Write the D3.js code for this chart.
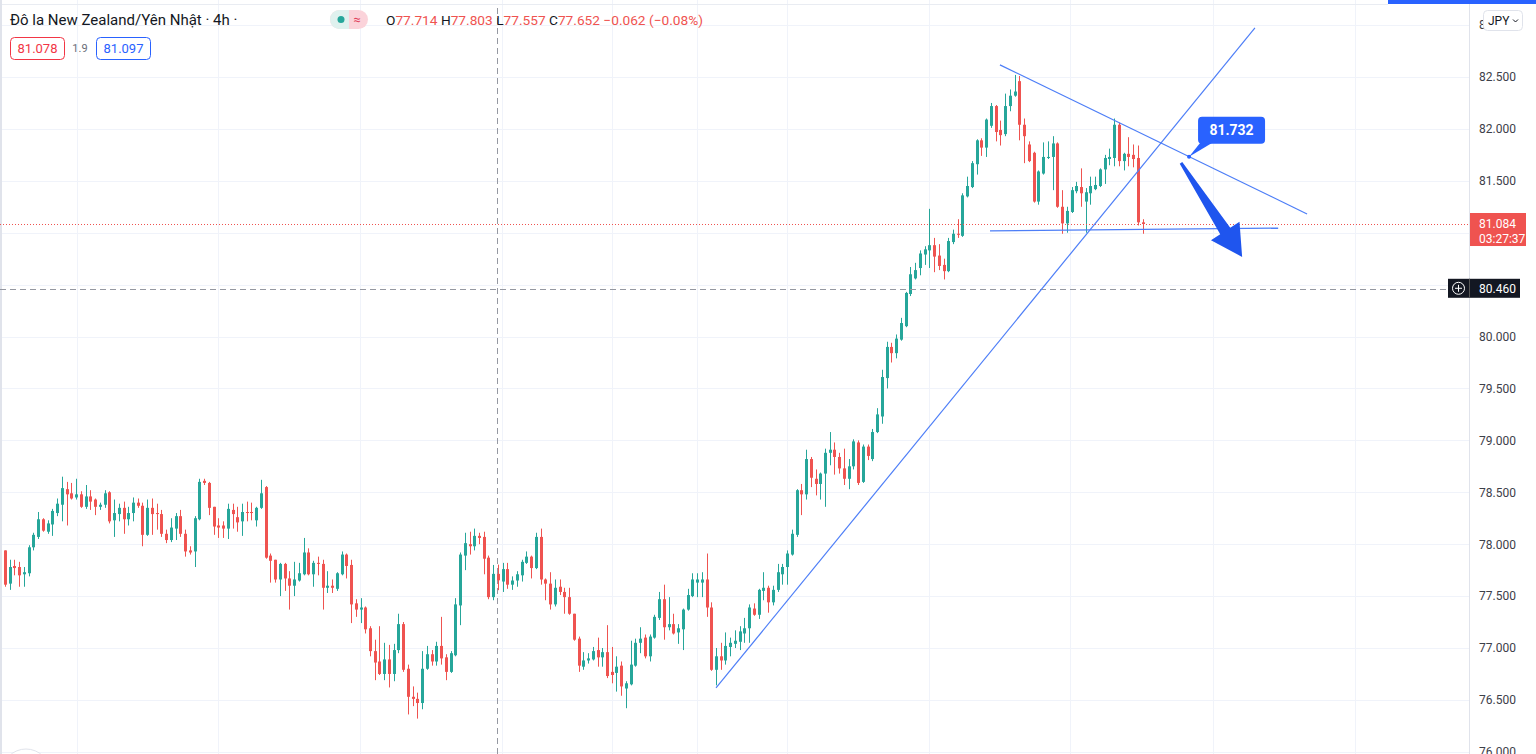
<!DOCTYPE html>
<html lang="vi">
<head>
<meta charset="UTF-8">
<title>Đô la New Zealand/Yên Nhật 4h</title>
<script src="https://d3js.org/d3.v7.min.js"></script>
<style>
  body { margin: 0; background: #fff; font-family: Roboto, "Liberation Sans", sans-serif; }
  svg { display: block; }
  .axis text { font-size: 12px; fill: #3d4049; font-family: Roboto, sans-serif; }
</style>
</head>
<body>
<svg width="1536" height="754"></svg>
<script>
// candles (4h)
const opens = [77.94,77.62,77.79,77.78,77.71,77.72,77.97,78.07,78.24,78.12,78.19,78.30,78.38,78.53,78.49,78.45,78.48,78.36,78.46,78.43,
  78.36,78.38,78.50,78.23,78.29,78.35,78.24,78.30,78.40,78.37,78.09,78.35,78.30,78.29,78.10,78.04,78.15,78.27,78.10,77.94,
  77.93,78.24,78.61,78.59,78.36,78.18,78.18,78.15,78.33,78.26,78.22,78.31,78.31,78.23,78.35,78.55,77.89,77.85,77.66,77.81,
  77.67,77.60,77.65,77.71,77.92,77.71,77.82,77.81,77.58,77.60,77.57,77.71,77.90,77.80,77.43,77.37,77.39,77.19,76.97,76.87,
  76.75,76.89,76.75,76.98,77.23,76.80,76.53,76.51,76.47,76.80,76.94,76.87,77.02,76.91,76.77,76.93,77.41,77.89,78.00,77.98,
  78.08,78.07,77.87,77.49,77.714,77.64,77.76,77.61,77.65,77.70,77.82,77.88,77.77,78.07,77.66,77.62,77.42,77.59,77.54,77.49,
  77.33,77.09,76.82,76.88,76.89,76.98,76.91,76.96,76.77,76.76,76.83,76.61,76.65,76.83,77.05,77.10,76.92,77.10,77.29,77.47,
  77.20,77.23,77.15,77.18,77.37,77.50,77.63,77.63,77.66,77.39,76.79,76.92,76.88,77.01,77.04,77.06,77.14,77.19,77.38,77.32,
  77.55,77.58,77.44,77.56,77.71,77.78,77.90,78.09,78.52,78.48,78.82,78.63,78.58,78.68,78.88,78.91,78.84,78.73,78.63,78.75,
  78.98,78.60,78.94,78.82,79.08,79.23,79.60,79.90,79.84,79.97,80.10,80.41,80.56,80.66,80.79,80.83,80.88,80.78,80.69,80.63,
  80.91,80.99,80.97,81.35,81.44,81.66,81.89,81.82,82.03,82.22,81.99,81.95,82.22,82.32,82.46,82.04,81.85,81.77,81.30,81.57,
  81.72,81.73,81.86,81.25,81.09,81.20,81.40,81.44,81.30,81.38,81.42,81.45,81.61,81.71,81.72,82.04,81.69,81.76,81.75,81.72,
  81.10];
const highs = [77.94,77.85,77.85,77.83,77.78,77.99,78.11,78.31,78.25,78.23,78.34,78.44,78.65,78.60,78.59,78.63,78.51,78.57,78.52,78.44,
  78.40,78.52,78.51,78.43,78.39,78.41,78.36,78.45,78.44,78.40,78.43,78.44,78.39,78.33,78.14,78.25,78.30,78.33,78.14,77.98,
  78.27,78.63,78.63,78.60,78.36,78.25,78.22,78.39,78.39,78.36,78.39,78.41,78.40,78.36,78.62,78.56,77.91,77.85,77.82,77.82,
  77.74,77.83,77.82,78.06,77.96,77.84,77.88,77.85,77.74,77.66,77.73,77.93,77.91,77.85,77.47,77.48,77.40,77.21,77.08,77.21,
  77.05,77.03,77.04,77.33,77.25,76.84,76.63,76.57,76.97,77.02,76.98,77.06,77.30,76.94,76.97,77.48,77.92,78.11,78.12,78.15,
  78.11,78.12,77.89,77.80,77.803,77.82,77.82,77.69,77.74,77.85,77.93,77.89,78.11,78.15,77.67,77.73,77.66,77.66,77.58,77.58,
  77.33,77.11,76.96,76.95,77.01,77.10,77.00,77.22,77.01,76.92,76.87,76.68,77.07,77.09,77.20,77.13,77.13,77.32,77.54,77.61,
  77.49,77.33,77.23,77.38,77.57,77.72,77.72,77.73,77.91,77.44,77.00,77.05,77.15,77.10,77.17,77.21,77.29,77.42,77.43,77.57,
  77.73,77.60,77.60,77.81,77.81,77.94,78.14,78.53,78.58,78.91,78.84,78.72,78.69,78.92,79.08,78.98,78.88,78.92,78.82,79.01,
  79.00,78.96,78.96,79.11,79.31,79.68,79.95,79.94,80.02,80.18,80.43,80.67,80.71,80.83,80.87,81.23,80.95,80.89,80.75,80.95,
  81.03,81.13,81.38,81.54,81.69,81.90,81.91,82.10,82.25,82.23,82.08,82.34,82.38,82.52,82.51,82.10,81.88,81.78,81.60,81.87,
  81.88,81.93,81.87,81.41,81.25,81.44,81.49,81.62,81.43,81.54,81.54,81.62,81.75,81.81,82.10,82.06,81.77,81.92,81.85,81.84,
  81.13];
const lows = [77.59,77.56,77.70,77.59,77.59,77.69,77.94,78.05,78.12,78.10,78.08,78.27,78.22,78.18,78.43,78.43,78.35,78.34,78.33,78.28,
  78.33,78.35,78.20,78.07,78.22,78.10,78.18,78.22,78.35,77.98,78.08,78.09,78.14,78.07,78.01,78.02,78.04,78.07,77.88,77.90,
  77.78,78.23,78.57,78.28,78.09,78.06,78.06,78.05,78.15,78.12,78.08,78.22,78.23,78.17,78.34,77.86,77.63,77.63,77.50,77.55,
  77.37,77.50,77.64,77.70,77.70,77.59,77.70,77.37,77.53,77.53,77.55,77.70,77.67,77.24,77.30,77.24,77.14,76.92,76.69,76.74,
  76.69,76.62,76.68,76.95,76.77,76.36,76.44,76.32,76.41,76.79,76.83,76.83,76.84,76.69,76.76,76.92,77.22,77.75,77.90,77.94,
  78.00,77.71,77.47,77.46,77.557,77.54,77.57,77.56,77.59,77.64,77.81,77.67,77.76,77.61,77.46,77.37,77.40,77.51,77.33,77.32,
  77.07,76.77,76.79,76.85,76.88,76.82,76.82,76.71,76.66,76.58,76.54,76.42,76.64,76.82,76.95,76.90,76.87,77.09,77.27,77.08,
  77.17,77.13,77.04,76.98,77.36,77.49,77.49,77.49,77.30,76.78,76.64,76.79,76.84,76.92,77.00,76.98,77.05,77.05,77.31,77.28,
  77.46,77.34,77.41,77.54,77.61,77.61,77.89,78.07,78.28,78.43,78.55,78.47,78.43,78.36,78.76,78.67,78.68,78.57,78.53,78.72,
  78.57,78.59,78.81,78.80,79.07,79.16,79.50,79.75,79.79,79.96,80.09,80.39,80.55,80.59,80.69,80.66,80.62,80.64,80.55,80.62,
  80.89,80.95,80.96,81.34,81.43,81.56,81.74,81.73,82.01,81.88,81.84,81.93,82.17,82.31,81.89,81.67,81.68,81.29,81.27,81.56,
  81.71,81.41,81.24,80.99,81.00,81.19,81.38,81.25,81.00,81.27,81.41,81.44,81.47,81.65,81.64,81.64,81.60,81.64,81.63,81.07,
  80.99];
const closes = [77.61,77.78,77.77,77.70,77.73,77.97,78.09,78.24,78.13,78.20,78.32,78.39,78.54,78.48,78.44,78.48,78.36,78.46,78.41,78.36,
  78.38,78.49,78.22,78.30,78.35,78.24,78.30,78.40,78.37,78.09,78.35,78.29,78.29,78.10,78.04,78.16,78.27,78.10,77.93,77.92,
  78.25,78.60,78.59,78.35,78.17,78.16,78.15,78.34,78.29,78.21,78.31,78.30,78.30,78.35,78.49,77.87,77.84,77.66,77.81,77.67,
  77.60,77.66,77.72,77.92,77.71,77.82,77.81,77.58,77.60,77.58,77.72,77.90,77.79,77.42,77.37,77.39,77.18,76.97,76.86,76.75,
  76.89,76.75,76.98,77.23,76.79,76.53,76.51,76.47,76.80,76.94,76.87,77.02,76.90,76.77,76.95,77.42,77.90,78.01,77.98,78.08,
  78.06,77.86,77.49,77.714,77.652,77.76,77.61,77.65,77.71,77.83,77.88,77.77,78.07,77.66,77.62,77.42,77.58,77.54,77.49,77.33,
  77.08,76.83,76.88,76.90,76.97,76.91,76.96,76.73,76.74,76.82,76.63,76.66,76.84,77.05,77.09,76.92,77.11,77.30,77.47,77.20,
  77.23,77.14,77.19,77.37,77.51,77.66,77.66,77.66,77.39,76.79,76.92,76.88,77.02,77.05,77.07,77.16,77.19,77.39,77.32,77.56,
  77.58,77.44,77.56,77.73,77.78,77.91,78.10,78.52,78.48,78.82,78.64,78.58,78.68,78.88,78.91,78.84,78.73,78.63,78.75,78.99,
  78.59,78.94,78.85,79.08,79.25,79.61,79.90,79.84,79.98,80.13,80.42,80.60,80.64,80.80,80.84,80.88,80.77,80.68,80.63,80.92,
  80.99,80.98,81.36,81.45,81.67,81.89,81.82,82.09,82.22,81.97,81.94,82.22,82.32,82.36,82.04,81.93,81.69,81.30,81.59,81.73,
  81.73,81.86,81.25,81.09,81.21,81.41,81.45,81.38,81.39,81.45,81.46,81.61,81.72,81.73,82.04,81.69,81.76,81.73,81.71,81.10,
  81.084];

const priceTicks = d3.range(76, 83.01, 0.5);
const timeGrid = [15.2, 44.9, 74.9, 104.8, 128.1, 146, 165, 195, 224.7, 254.9, 284.8]; // bar index of vertical grid lines
const lastPrice = 81.084, countdown = '03:27:37';
const bid = '81.078', spread = '1.9', ask = '81.097';
const crossBar = 104, crossPrice = 80.460;

// drawings (bar index, price)
const riseLine = [[150, 76.615], [263.7, 82.973]];
const fallLine = [[209.9, 82.617], [274.7, 81.181]];
const baseLine = [[207.8, 81.017], [268.6, 81.045]];
const calloutPoint = [249.8, 81.732];
const arrowFrom = [248.1, 81.673], arrowTo = [261, 80.767];

const W = 1536, H = 754, axisX = 1470;
const green = '#26a69a', red = '#ef5350', blue = '#2962ff';

const svg = d3.select('svg');
const x = d3.scaleLinear().domain([0, 240]).range([5, 1142.6]);
const y = d3.scaleLinear().domain([77, 82.5]).range([648, 77]);
const crisp = v => Math.round(v) + 0.5;

// grid
svg.append('g').selectAll('line.h').data(priceTicks).join('line')
  .attr('x1', 0).attr('x2', axisX).attr('y1', d => crisp(y(d))).attr('y2', d => crisp(y(d)))
  .attr('stroke', '#f0f3fa');
svg.append('g').selectAll('line.v').data(timeGrid).join('line')
  .attr('x1', d => crisp(x(d))).attr('x2', d => crisp(x(d))).attr('y1', 0).attr('y2', H)
  .attr('stroke', '#f0f3fa');
svg.append('line').attr('x1', 0).attr('x2', 1388).attr('y1', 4.5).attr('y2', 4.5).attr('stroke', '#e9ecf2');
svg.append('rect').attr('x', 0).attr('y', 0).attr('width', 2).attr('height', H).attr('fill', '#e0e3eb');

// crosshair vertical
svg.append('line').attr('x1', crisp(x(crossBar)) - 1).attr('x2', crisp(x(crossBar)) - 1)
  .attr('y1', 8).attr('y2', H).attr('stroke', '#9598a1').attr('stroke-dasharray', '6,4');

// candles
const idx = d3.range(closes.length);
const col = i => closes[i] >= opens[i] ? green : red;
const candles = svg.append('g');
candles.selectAll('line').data(idx).join('line')
  .attr('x1', i => crisp(x(i))).attr('x2', i => crisp(x(i)))
  .attr('y1', i => y(highs[i])).attr('y2', i => y(lows[i]))
  .attr('stroke', col);
candles.selectAll('rect').data(idx).join('rect')
  .attr('x', i => Math.round(x(i)) - 1).attr('width', 3)
  .attr('y', i => y(Math.max(opens[i], closes[i])))
  .attr('height', i => Math.max(1, Math.abs(y(opens[i]) - y(closes[i]))))
  .attr('fill', col);

// last price line and crosshair horizontal
svg.append('line').attr('x1', 0).attr('x2', axisX).attr('y1', crisp(y(lastPrice))).attr('y2', crisp(y(lastPrice)))
  .attr('stroke', red).attr('stroke-dasharray', '1,2');
svg.append('line').attr('x1', 0).attr('x2', 1448).attr('y1', crisp(y(crossPrice))).attr('y2', crisp(y(crossPrice)))
  .attr('stroke', '#9598a1').attr('stroke-dasharray', '6,4');

// trend lines
const lineGen = d3.line().x(d => x(d[0])).y(d => y(d[1]));
svg.append('g').selectAll('path').data([riseLine, fallLine, baseLine]).join('path')
  .attr('d', lineGen).attr('fill', 'none').attr('stroke', '#4d7ef7').attr('stroke-width', 1.2);

// callout
const cp = [x(calloutPoint[0]), y(calloutPoint[1])];
const callout = svg.append('g');
callout.append('path')
  .attr('d', `M${cp[0]},${cp[1]}L${cp[0] + 12},${cp[1] - 15}L${cp[0] + 25},${cp[1] - 15}Z`).attr('fill', blue);
callout.append('rect').attr('x', cp[0] + 9).attr('y', cp[1] - 40).attr('width', 67).attr('height', 27)
  .attr('rx', 4).attr('fill', blue);
callout.append('text').attr('x', cp[0] + 42.5).attr('y', cp[1] - 26.5).attr('dy', '0.36em')
  .attr('text-anchor', 'middle').attr('fill', '#fff').attr('font-size', 14).attr('font-weight', 'bold')
  .text(calloutPoint[1].toFixed(3));
callout.append('circle').attr('cx', cp[0]).attr('cy', cp[1]).attr('r', 2).attr('fill', blue);

// arrow
const a0 = [x(arrowFrom[0]), y(arrowFrom[1])], a1 = [x(arrowTo[0]), y(arrowTo[1])];
const len = Math.hypot(a1[0] - a0[0], a1[1] - a0[1]);
const u = [(a1[0] - a0[0]) / len, (a1[1] - a0[1]) / len], n = [-u[1], u[0]];
const b = [a1[0] - u[0] * 31, a1[1] - u[1] * 31];
const pt = (p, k) => [p[0] + n[0] * k, p[1] + n[1] * k];
const arrowPts = [pt(a0, 1.5), pt(b, 6), pt(b, 17), a1, pt(b, -17), pt(b, -6), pt(a0, -1.5)];
svg.append('path').attr('d', 'M' + arrowPts.map(p => p.join(',')).join('L') + 'Z').attr('fill', '#1f55ee');

// price axis (labels under the price/crosshair tags are hidden, like the original)
svg.append('rect').attr('x', axisX).attr('y', 0).attr('width', W - axisX).attr('height', H).attr('fill', '#fff');
svg.append('line').attr('x1', axisX - 0.5).attr('x2', axisX - 0.5).attr('y1', 0).attr('y2', H).attr('stroke', '#e0e3eb');
const axisTicks = priceTicks.filter(d => Math.abs(y(d) - y(lastPrice)) > 14 && Math.abs(y(d) - y(crossPrice)) > 12);
const axis = svg.append('g').attr('class', 'axis').attr('transform', `translate(${axisX},0)`)
  .call(d3.axisRight(y).tickValues(axisTicks).tickFormat(d3.format('.3f')).tickSize(0).tickPadding(9));
axis.select('.domain').remove();

// last price label
const ly = y(lastPrice);
svg.append('rect').attr('x', axisX).attr('y', ly - 11).attr('width', 56).attr('height', 33).attr('fill', red);
svg.append('text').attr('x', axisX + 9).attr('y', ly + 4).attr('fill', '#fff').attr('font-size', 12).text(lastPrice.toFixed(3));
svg.append('text').attr('x', axisX + 9).attr('y', ly + 19).attr('fill', '#fff').attr('font-size', 12).text(countdown);

// crosshair label
const cy = y(crossPrice);
svg.append('rect').attr('x', 1448).attr('y', cy - 10).attr('width', 72).attr('height', 19).attr('fill', '#131722');
svg.append('circle').attr('cx', 1458.5).attr('cy', cy - 0.5).attr('r', 6).attr('fill', 'none').attr('stroke', '#fff');
svg.append('path').attr('d', `M1455,${cy - 0.5}H1462M1458.5,${cy - 4}V${cy + 3}`).attr('stroke', '#fff');
svg.append('line').attr('x1', axisX - 0.5).attr('x2', axisX - 0.5).attr('y1', cy - 10).attr('y2', cy + 9).attr('stroke', '#555');
svg.append('text').attr('x', axisX + 9).attr('y', cy + 4).attr('fill', '#fff').attr('font-size', 12).text(crossPrice.toFixed(3));

// JPY button and top bar
svg.append('rect').attr('x', 1483.5).attr('y', 10.5).attr('width', 39).attr('height', 20).attr('rx', 4)
  .attr('fill', '#fff').attr('stroke', '#e0e3eb');
svg.append('text').attr('x', 1488).attr('y', 25).attr('font-size', 12).attr('fill', '#131722').text('JPY');
svg.append('path').attr('d', 'M1513,19.5l2.5,2.5l2.5,-2.5').attr('fill', 'none').attr('stroke', '#131722');
svg.append('rect').attr('x', 1388).attr('y', 0).attr('width', W - 1388).attr('height', 4).attr('fill', blue);

// legend
svg.append('text').attr('x', 10).attr('y', 25).attr('font-size', 15).attr('fill', '#131722')
  .text('Đô la New Zealand/Yên Nhật · 4h ·');
svg.append('rect').attr('x', 330).attr('y', 10).attr('width', 38).attr('height', 19).attr('rx', 9.5).attr('fill', '#fbd3da');
svg.append('path').attr('d', 'M339.5,10h9.5v19h-9.5a9.5,9.5 0 0 1 0,-19z').attr('fill', '#dff1ee');
svg.append('circle').attr('cx', 341).attr('cy', 19.5).attr('r', 3.5).attr('fill', green);
svg.append('text').attr('x', 357).attr('y', 24).attr('text-anchor', 'middle').attr('font-size', 13)
  .attr('fill', '#e0405a').text('≈');

const c = crossBar;
const chg = closes[c] - closes[c - 1];
const fmt = v => (v < 0 ? '−' : '+') + Math.abs(v).toFixed(3);
const ohlc = svg.append('text').attr('x', 386).attr('y', 25).attr('font-size', 13.7);
[['O', opens[c]], ['H', highs[c]], ['L', lows[c]], ['C', closes[c]]].forEach(([k, v]) => {
  ohlc.append('tspan').attr('fill', '#131722').text(k);
  ohlc.append('tspan').attr('fill', red).text(v.toFixed(3) + ' ');
});
ohlc.append('tspan').attr('fill', red)
  .text(`${fmt(chg)} (${chg < 0 ? '−' : '+'}${Math.abs(chg / closes[c - 1] * 100).toFixed(2)}%)`);

svg.append('rect').attr('x', 10.5).attr('y', 37.5).attr('width', 54).attr('height', 22).attr('rx', 4)
  .attr('fill', '#fff').attr('stroke', '#f23645');
svg.append('text').attr('x', 37.5).attr('y', 53).attr('text-anchor', 'middle').attr('font-size', 13).attr('fill', '#f23645').text(bid);
svg.append('text').attr('x', 80).attr('y', 52).attr('text-anchor', 'middle').attr('font-size', 11).attr('fill', '#6a6d78').text(spread);
svg.append('rect').attr('x', 96.5).attr('y', 37.5).attr('width', 54).attr('height', 22).attr('rx', 4)
  .attr('fill', '#fff').attr('stroke', blue);
svg.append('text').attr('x', 123.5).attr('y', 53).attr('text-anchor', 'middle').attr('font-size', 13).attr('fill', blue).text(ask);

// partial navigation button at the bottom left
svg.append('circle').attr('cx', 26).attr('cy', 773).attr('r', 24).attr('fill', '#fff').attr('stroke', '#e0e3eb');
</script>
</body>
</html>
